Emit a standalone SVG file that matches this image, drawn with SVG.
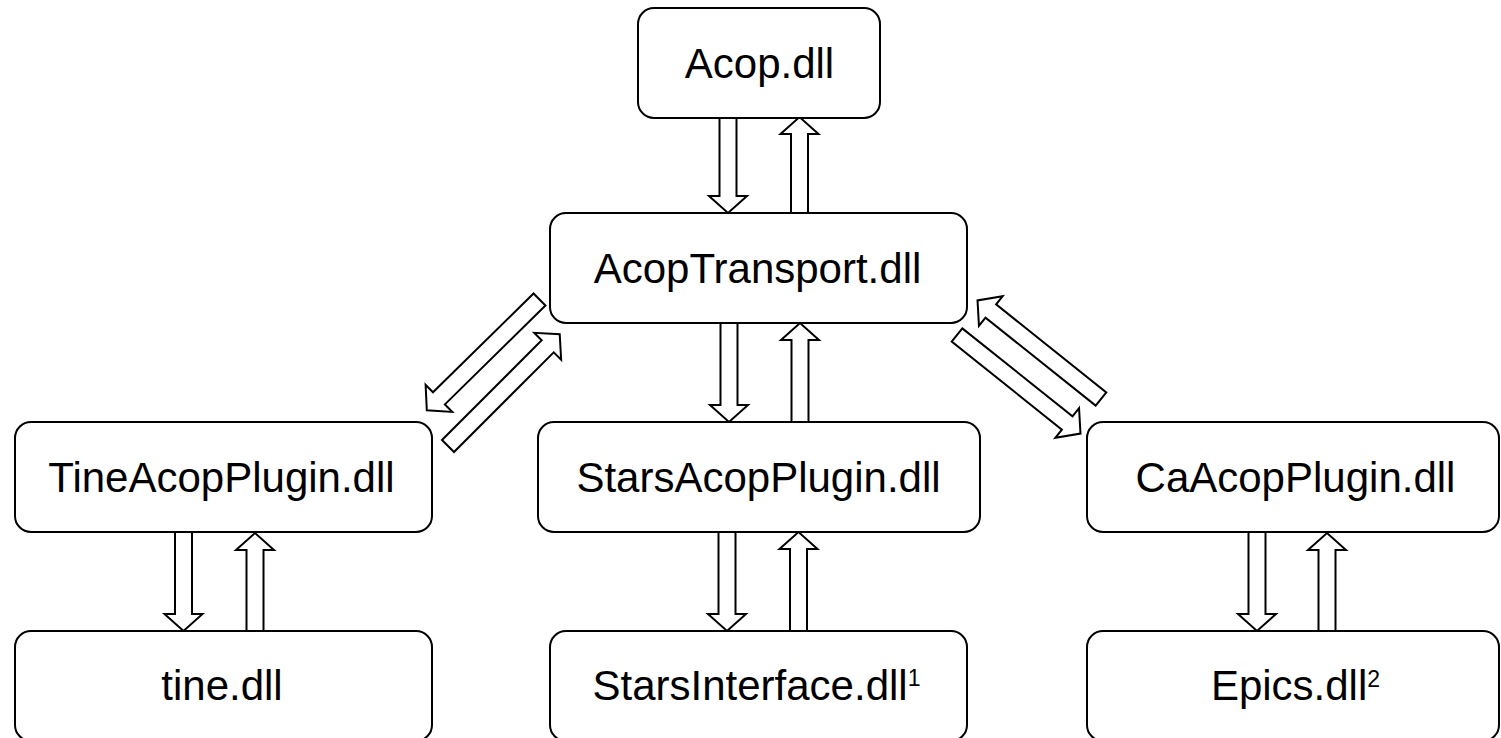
<svg xmlns="http://www.w3.org/2000/svg" width="1501" height="738" viewBox="0 0 1501 738">
<style>
.box{fill:#fff;stroke:#000;stroke-width:2}
.lbl{font-family:"Liberation Sans",Arial,sans-serif;font-size:42px;fill:#000;text-anchor:middle}
tspan.sup{font-size:23px}
.arr{fill:#fff;stroke:#000;stroke-width:2;stroke-linejoin:miter}
</style>
<defs>
<path id="diag" d="M0,-8.5 L141,-8.5 L141,-19 L158,0 L141,19 L141,8.5 L0,8.5 Z"/>
</defs>
<rect width="1501" height="738" fill="#fff"/>
<g id="connectors">
<polygon class="arr" points="719.5,118 736.5,118 736.5,196 747,196 728,213 709,196 719.5,196"/>
<polygon class="arr" points="791,213 808,213 808,134 818.5,134 799.5,117 780.5,134 791,134"/>
<polygon class="arr" points="720.5,323 737.5,323 737.5,405 748,405 729,422 710,405 720.5,405"/>
<polygon class="arr" points="791.5,422 808.5,422 808.5,340 819,340 800,323 781,340 791.5,340"/>
<polygon class="arr" points="718.5,532 735.5,532 735.5,614 746,614 727,631 708,614 718.5,614"/>
<polygon class="arr" points="790,631 807,631 807,549 817.5,549 798.5,532 779.5,549 790,549"/>
<polygon class="arr" points="175,532 192,532 192,614 202.5,614 183.5,631 164.5,614 175,614"/>
<polygon class="arr" points="246.5,631 263.5,631 263.5,550 274,550 255,533 236,550 246.5,550"/>
<polygon class="arr" points="1248.5,532 1265.5,532 1265.5,614 1276,614 1257,631 1238,614 1248.5,614"/>
<polygon class="arr" points="1318.5,631 1335.5,631 1335.5,550 1346,550 1327,533 1308,550 1318.5,550"/>
<use href="#diag" class="arr" transform="translate(539.5,299.5) rotate(135.5)"/>
<use href="#diag" class="arr" transform="translate(448,446) rotate(-45)"/>
<use href="#diag" class="arr" transform="translate(1101,399) rotate(-141.4)"/>
<use href="#diag" class="arr" transform="translate(957,335) rotate(38.6)"/>
</g>
<g id="acop"><rect class="box" x="638" y="8" width="242" height="110" rx="16"/><text class="lbl" x="759.5" y="78">Acop.dll</text></g>
<g id="acoptransport"><rect class="box" x="550" y="213" width="417" height="110" rx="16"/><text class="lbl" x="757.5" y="283">AcopTransport.dll</text></g>
<g id="tineplugin"><rect class="box" x="15" y="422" width="417" height="110" rx="16"/><text class="lbl" x="221.5" y="492">TineAcopPlugin.dll</text></g>
<g id="starsplugin"><rect class="box" x="538" y="422" width="442" height="110" rx="16"/><text class="lbl" x="758.5" y="492">StarsAcopPlugin.dll</text></g>
<g id="caplugin"><rect class="box" x="1087" y="422" width="412" height="110" rx="16"/><text class="lbl" x="1295.5" y="492">CaAcopPlugin.dll</text></g>
<g id="tine"><rect class="box" x="15" y="631" width="417" height="110" rx="16"/><text class="lbl" x="222" y="700">tine.dll</text></g>
<g id="starsinterface"><rect class="box" x="550" y="631" width="417" height="110" rx="16"/><text class="lbl" x="756.5" y="700">StarsInterface.dll<tspan class="sup" dy="-14">1</tspan></text></g>
<g id="epics"><rect class="box" x="1087" y="631" width="412" height="110" rx="16"/><text class="lbl" x="1295.5" y="700">Epics.dll<tspan class="sup" dy="-13">2</tspan></text></g>
</svg>
